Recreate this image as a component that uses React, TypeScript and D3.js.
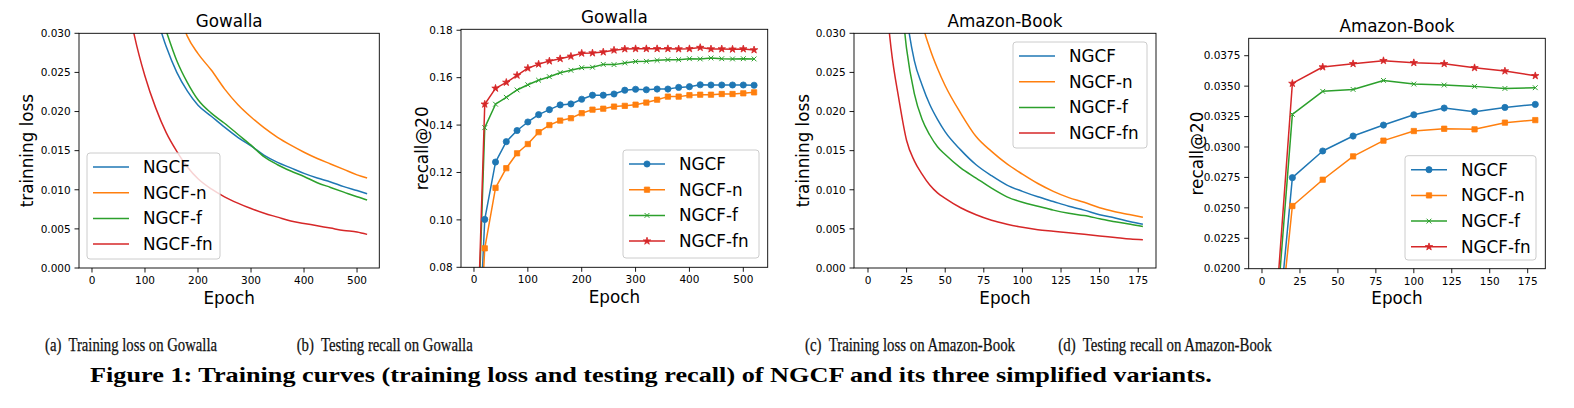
import React from "react";
import * as d3 from "d3";

// ---------- shared series info ----------
const seriesNames = ["NGCF", "NGCF-n", "NGCF-f", "NGCF-fn"];
const seriesColors = ["#1f77b4", "#ff7f0e", "#2ca02c", "#d62728"];
const seriesMarkers = ["circle", "square", "x", "star"];

// ---------- (a) Training loss on Gowalla ----------
const gowallaLossEpochs = [60, 80, 100, 120, 140, 160, 180, 200, 225, 250, 275, 300, 325, 350, 375, 400, 425, 450, 475, 500, 519];
const gowallaLossNGCF = [0.050, 0.043, 0.037, 0.0325, 0.0283, 0.0250, 0.0226, 0.0208, 0.0194, 0.0180, 0.0167, 0.0156, 0.0144, 0.0135, 0.0128, 0.0121, 0.0115, 0.0110, 0.0104, 0.0099, 0.0095];
const gowallaLossNGCFn = [0.070, 0.058, 0.050, 0.043, 0.038, 0.0335, 0.0296, 0.0274, 0.0253, 0.0229, 0.0209, 0.0193, 0.0179, 0.0167, 0.0157, 0.0148, 0.0140, 0.0133, 0.0126, 0.0119, 0.0115];
const gowallaLossNGCFf = [0.055, 0.047, 0.040, 0.0345, 0.0303, 0.0265, 0.0237, 0.0215, 0.0198, 0.0185, 0.0171, 0.0157, 0.0142, 0.0132, 0.0124, 0.0117, 0.0109, 0.0103, 0.0097, 0.0091, 0.0087];
const gowallaLossNGCFfn = [0.037, 0.0297, 0.0245, 0.0205, 0.0173, 0.0149, 0.0129, 0.0114, 0.0101, 0.0091, 0.0083, 0.0076, 0.0070, 0.0065, 0.0060, 0.0057, 0.0054, 0.0051, 0.0048, 0.0046, 0.0043];

// ---------- (b) Testing recall on Gowalla ----------
const gowallaRecallEpochs = [0, 20, 40, 60, 80, 100, 120, 140, 160, 180, 200, 220, 240, 260, 280, 300, 320, 340, 360, 380, 400, 420, 440, 460, 480, 500, 520];
const gowallaRecallNGCF = [0.002, 0.1002, 0.1244, 0.1330, 0.1377, 0.1413, 0.1444, 0.1465, 0.1485, 0.1489, 0.1509, 0.1526, 0.1526, 0.1531, 0.1547, 0.1551, 0.1549, 0.1552, 0.1552, 0.1559, 0.1562, 0.1570, 0.1569, 0.1569, 0.1569, 0.1569, 0.1568];
const gowallaRecallNGCFn = [0.002, 0.0880, 0.1135, 0.1218, 0.1281, 0.1320, 0.1370, 0.1400, 0.1419, 0.1429, 0.1450, 0.1465, 0.1469, 0.1478, 0.1481, 0.1486, 0.1495, 0.1507, 0.1520, 0.1520, 0.1526, 0.1528, 0.1528, 0.1531, 0.1531, 0.1534, 0.1538];
const gowallaRecallNGCFf = [0.003, 0.1389, 0.1488, 0.1517, 0.1548, 0.1570, 0.1589, 0.1604, 0.1621, 0.1631, 0.1642, 0.1644, 0.1656, 0.1655, 0.1662, 0.1668, 0.1669, 0.1673, 0.1676, 0.1676, 0.1680, 0.1679, 0.1683, 0.1680, 0.1679, 0.1680, 0.1679];
const gowallaRecallNGCFfn = [0.004, 0.1488, 0.1555, 0.1580, 0.1610, 0.1640, 0.1657, 0.1670, 0.1680, 0.1690, 0.1703, 0.1704, 0.1708, 0.1716, 0.1721, 0.1722, 0.1722, 0.1722, 0.1722, 0.1721, 0.1722, 0.1727, 0.1721, 0.1721, 0.1720, 0.1721, 0.1717];

// ---------- (c) Training loss on Amazon-Book ----------
const amazonLossEpochs = [5, 10, 15, 20, 25, 30, 35, 40, 45, 50, 60, 70, 80, 90, 100, 110, 120, 130, 140, 150, 160, 170, 178];
const amazonLossNGCF = [0.09, 0.07, 0.055, 0.044, 0.0325, 0.0265, 0.0234, 0.0209, 0.0190, 0.0174, 0.0151, 0.0132, 0.0118, 0.0106, 0.0098, 0.0091, 0.0085, 0.0079, 0.0074, 0.0068, 0.0064, 0.0059, 0.0056];
const amazonLossNGCFn = [0.12, 0.09, 0.072, 0.058, 0.047, 0.038, 0.0315, 0.0281, 0.0255, 0.0233, 0.0198, 0.0168, 0.0149, 0.0133, 0.0120, 0.0108, 0.0098, 0.0090, 0.0084, 0.0077, 0.0072, 0.0068, 0.0065];
const amazonLossNGCFf = [0.08, 0.06, 0.047, 0.038, 0.028, 0.0223, 0.0190, 0.0170, 0.0155, 0.0145, 0.0128, 0.0115, 0.0102, 0.0091, 0.0084, 0.0079, 0.0074, 0.0070, 0.0067, 0.0063, 0.0059, 0.0056, 0.0053];
const amazonLossNGCFfn = [0.06, 0.039, 0.028, 0.0216, 0.0163, 0.0137, 0.0120, 0.0106, 0.0096, 0.0089, 0.0077, 0.0068, 0.0061, 0.0056, 0.0052, 0.0049, 0.0047, 0.0045, 0.0043, 0.0041, 0.0039, 0.0037, 0.0036];

// ---------- (d) Testing recall on Amazon-Book ----------
const amazonRecallEpochs = [0, 20, 40, 60, 80, 100, 120, 140, 160, 180];
const amazonRecallNGCF = [0.001, 0.02748, 0.02967, 0.0309, 0.0318, 0.03265, 0.0332, 0.0329, 0.03325, 0.0335];
const amazonRecallNGCFn = [0.001, 0.02515, 0.02731, 0.02923, 0.03052, 0.03131, 0.0315, 0.03145, 0.032, 0.03221];
const amazonRecallNGCFf = [0.001, 0.03268, 0.03457, 0.03473, 0.03547, 0.03517, 0.03509, 0.03498, 0.03481, 0.03487];
const amazonRecallNGCFfn = [0.001, 0.03522, 0.03657, 0.03684, 0.03709, 0.03692, 0.03684, 0.03651, 0.03624, 0.03585];

// ---------- ticks ----------
const gowallaXTicks = [0, 100, 200, 300, 400, 500];
const amazonXTicks = [0, 25, 50, 75, 100, 125, 150, 175];
const lossYTicks = [0, 0.005, 0.01, 0.015, 0.02, 0.025, 0.03];
const gowallaRecallYTicks = [0.08, 0.1, 0.12, 0.14, 0.16, 0.18];
const amazonRecallYTicks = [0.02, 0.0225, 0.025, 0.0275, 0.03, 0.0325, 0.035, 0.0375];

// ---------- captions ----------
const subCaptions = [
  "(a)  Training loss on Gowalla",
  "(b)  Testing recall on Gowalla",
  "(c)  Training loss on Amazon-Book",
  "(d)  Testing recall on Amazon-Book",
];
const figureCaption =
  "Figure 1: Training curves (training loss and testing recall) of NGCF and its three simplified variants.";

const SANS = "'DejaVu Sans', sans-serif";
const SERIF = "'Liberation Serif', 'Times New Roman', serif";

type PanelSpec = {
  id: string;
  l: number; r: number; t: number; b: number;
  xDomain: [number, number];
  yDomain: [number, number];
  xTicks: number[];
  yTicks: number[];
  yFmt: string;
  title: string;
  ylabel: string;
  ylabelX: number;
  epochs: number[];
  series: number[][];
  markers: boolean;
  legend: { x: number; y: number; w: number; h: number };
};

const panels: PanelSpec[] = [
  {
    id: "a", l: 79, r: 379.3, t: 33.3, b: 268,
    xDomain: [-24.5, 542], yDomain: [0, 0.03],
    xTicks: gowallaXTicks, yTicks: lossYTicks, yFmt: ".3f",
    title: "Gowalla", ylabel: "trainning loss", ylabelX: 26.7,
    epochs: gowallaLossEpochs,
    series: [gowallaLossNGCF, gowallaLossNGCFn, gowallaLossNGCFf, gowallaLossNGCFfn],
    markers: false,
    legend: { x: 87, y: 153, w: 133, h: 106 },
  },
  {
    id: "b", l: 461, r: 767.7, t: 29.3, b: 267.3,
    xDomain: [-24.1, 545.3], yDomain: [0.08, 0.1804],
    xTicks: gowallaXTicks, yTicks: gowallaRecallYTicks, yFmt: ".2f",
    title: "Gowalla", ylabel: "recall@20", ylabelX: 421.7,
    epochs: gowallaRecallEpochs,
    series: [gowallaRecallNGCF, gowallaRecallNGCFn, gowallaRecallNGCFf, gowallaRecallNGCFfn],
    markers: true,
    legend: { x: 623, y: 150, w: 136, h: 108 },
  },
  {
    id: "c", l: 854, r: 1156, t: 33.3, b: 268,
    xDomain: [-9.06, 186.5], yDomain: [0, 0.03],
    xTicks: amazonXTicks, yTicks: lossYTicks, yFmt: ".3f",
    title: "Amazon-Book", ylabel: "trainning loss", ylabelX: 803.3,
    epochs: amazonLossEpochs,
    series: [amazonLossNGCF, amazonLossNGCFn, amazonLossNGCFf, amazonLossNGCFfn],
    markers: false,
    legend: { x: 1013, y: 42, w: 134, h: 106 },
  },
  {
    id: "d", l: 1248.7, r: 1545.3, t: 38.3, b: 268.7,
    xDomain: [-8.76, 186.6], yDomain: [0.02, 0.03893],
    xTicks: amazonXTicks, yTicks: amazonRecallYTicks, yFmt: ".4f",
    title: "Amazon-Book", ylabel: "recall@20", ylabelX: 1197.3,
    epochs: amazonRecallEpochs,
    series: [amazonRecallNGCF, amazonRecallNGCFn, amazonRecallNGCFf, amazonRecallNGCFfn],
    markers: true,
    legend: { x: 1405, y: 155.7, w: 131, h: 104.3 },
  },
];

const captionBoxes = [
  { x0: 45, x1: 217 },
  { x0: 296.7, x1: 472.7 },
  { x0: 805, x1: 1015 },
  { x0: 1058.3, x1: 1271.7 },
];

function Marker({ kind, cx, cy, color }: { kind: string; cx: number; cy: number; color: string }) {
  if (kind === "circle") {
    return <circle cx={cx} cy={cy} r={3.1} fill={color} stroke={color} strokeWidth={0.8} />;
  }
  if (kind === "square") {
    const p = d3.symbol().type(d3.symbolSquare).size(28)() || "";
    return <path d={p} transform={`translate(${cx},${cy})`} fill={color} stroke={color} strokeWidth={0.8} />;
  }
  if (kind === "x") {
    const s = 2.4;
    return (
      <path
        d={`M${-s},${-s}L${s},${s}M${-s},${s}L${s},${-s}`}
        transform={`translate(${cx},${cy})`}
        fill="none"
        stroke={color}
        strokeWidth={1}
      />
    );
  }
  const p = d3.symbol().type(d3.symbolStar).size(17)() || "";
  return <path d={p} transform={`translate(${cx},${cy})`} fill={color} stroke={color} strokeWidth={0.8} />;
}

function Panel({ spec }: { spec: PanelSpec }) {
  const x = d3.scaleLinear().domain(spec.xDomain).range([spec.l, spec.r]);
  const y = d3.scaleLinear().domain(spec.yDomain).range([spec.b, spec.t]);
  const fmt = d3.format(spec.yFmt);
  const line = d3
    .line<number>()
    .x((_, i) => x(spec.epochs[i]))
    .y((d) => y(d))
    .curve(spec.markers ? d3.curveLinear : d3.curveMonotoneX);
  const clipId = `clip-${spec.id}`;
  const cxMid = (spec.l + spec.r) / 2;
  const cyMid = (spec.t + spec.b) / 2;
  const tickLen = 4.5;
  const lg = spec.legend;
  const rowH = 25.7;

  return (
    <g>
      <defs>
        <clipPath id={clipId}>
          <rect x={spec.l} y={spec.t} width={spec.r - spec.l} height={spec.b - spec.t} />
        </clipPath>
      </defs>

      <g clipPath={`url(#${clipId})`}>
        {spec.series.map((vals, si) => (
          <path key={si} d={line(vals) || ""} fill="none" stroke={seriesColors[si]} strokeWidth={1.5} strokeLinejoin="round" />
        ))}
        {spec.markers &&
          spec.series.map((vals, si) =>
            vals.map((v, i) => (
              <Marker key={`${si}-${i}`} kind={seriesMarkers[si]} cx={x(spec.epochs[i])} cy={y(v)} color={seriesColors[si]} />
            ))
          )}
      </g>

      {spec.xTicks.map((tv) => (
        <g key={`xt${tv}`}>
          <line x1={x(tv)} x2={x(tv)} y1={spec.b} y2={spec.b + tickLen} stroke="#000" strokeWidth={0.9} />
          <text x={x(tv)} y={spec.b + 16} textAnchor="middle" fontFamily={SANS} fontSize={10.5} fill="#000">
            {tv}
          </text>
        </g>
      ))}
      {spec.yTicks.map((tv) => (
        <g key={`yt${tv}`}>
          <line x1={spec.l - tickLen} x2={spec.l} y1={y(tv)} y2={y(tv)} stroke="#000" strokeWidth={0.9} />
          <text x={spec.l - 8.3} y={y(tv)} dy="0.36em" textAnchor="end" fontFamily={SANS} fontSize={10.5} fill="#000">
            {fmt(tv)}
          </text>
        </g>
      ))}

      <rect x={spec.l} y={spec.t} width={spec.r - spec.l} height={spec.b - spec.t} fill="none" stroke="#000" strokeWidth={0.9} />

      <text x={cxMid} y={spec.t - 6} textAnchor="middle" fontFamily={SANS} fontSize={16.8} fill="#000">
        {spec.title}
      </text>
      <text x={cxMid} y={spec.b + 35.5} textAnchor="middle" fontFamily={SANS} fontSize={16.8} fill="#000">
        Epoch
      </text>
      <text
        x={spec.ylabelX}
        y={cyMid}
        transform={`rotate(-90, ${spec.ylabelX}, ${cyMid})`}
        textAnchor="middle"
        dy="0.36em"
        fontFamily={SANS}
        fontSize={16.8}
        fill="#000"
      >
        {spec.ylabel}
      </text>

      <g>
        <rect x={lg.x} y={lg.y} width={lg.w} height={lg.h} rx={3} fill="#fff" fillOpacity={0.8} stroke="#cccccc" strokeWidth={1} />
        {seriesNames.map((name, si) => {
          const ry = lg.y + 14 + si * rowH;
          const x0 = lg.x + 6;
          const x1 = lg.x + 42;
          return (
            <g key={name}>
              <line x1={x0} x2={x1} y1={ry} y2={ry} stroke={seriesColors[si]} strokeWidth={1.5} />
              {spec.markers && <Marker kind={seriesMarkers[si]} cx={(x0 + x1) / 2} cy={ry} color={seriesColors[si]} />}
              <text x={lg.x + 56} y={ry} dy="0.36em" fontFamily={SANS} fontSize={16.8} fill="#000">
                {name}
              </text>
            </g>
          );
        })}
      </g>
    </g>
  );
}

export default function App() {
  return (
    <svg
      width={1574}
      height={408}
      viewBox="0 0 1574 408"
      style={{ position: "absolute", left: 0, top: 0, display: "block", background: "#fff" }}
    >
      <rect x={0} y={0} width={1574} height={408} fill="#fff" />
      {panels.map((p) => (
        <Panel key={p.id} spec={p} />
      ))}
      {subCaptions.map((c, i) => (
        <text
          key={c}
          x={captionBoxes[i].x0}
          y={351}
          fontFamily={SERIF}
          fontSize={19}
          fill="#111"
          stroke="#111"
          strokeWidth={0.25}
          textLength={captionBoxes[i].x1 - captionBoxes[i].x0}
          lengthAdjust="spacingAndGlyphs"
          style={{ whiteSpace: "pre" }}
        >
          {c}
        </text>
      ))}
      <text
        x={90}
        y={382}
        fontFamily={SERIF}
        fontWeight="bold"
        fontSize={22}
        fill="#000"
        textLength={1121.7}
        lengthAdjust="spacingAndGlyphs"
      >
        {figureCaption}
      </text>
    </svg>
  );
}
